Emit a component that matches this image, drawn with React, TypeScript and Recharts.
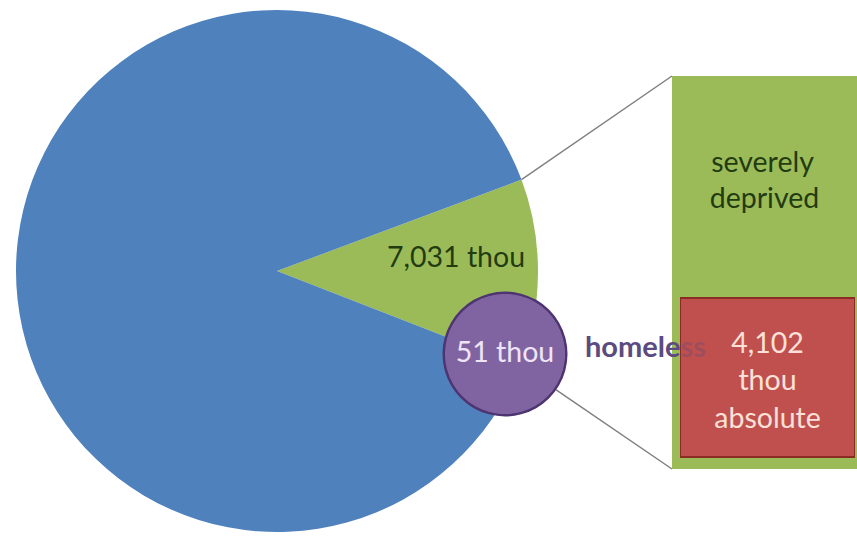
import React from "react";
import {
  PieChart,
  Pie,
  Cell,
  BarChart,
  Bar,
  XAxis,
  YAxis,
  LabelList,
  Customized,
} from "recharts";

// values (thousands of people)
const pieNames = ["severely deprived", "rest of population"];
const pieValues = [7031, 53569];
const homelessValues = [51];
const panelCategories = ["deprivation"];
const severeValues = [7031];
const absoluteValues = [4102];

const pieData = pieNames.map((name, i) => ({ name, value: pieValues[i] }));
const homelessData = homelessValues.map((value) => ({ name: "homeless", value }));
const panelData = panelCategories.map((name, i) => ({
  name,
  severe: severeValues[i],
  absolute: absoluteValues[i],
}));

const W = 857;
const H = 536;
const FONT = "Lato, 'Open Sans', sans-serif";

const PIE_CX = 277;
const PIE_CY = 271;
const PIE_R = 261;
const PIE_START = 20.5;

const HOME_CX = 505;
const HOME_CY = 354;
const HOME_R = 61;

const PANEL_LEFT = 672;
const PANEL_TOP = 76;
const PANEL_W = 185;
const PANEL_H = 393;

const pieColors = ["#9bbb59", "#4f81bd"];
const fmt = (v: number) => v.toLocaleString("en-US") + " thou";

const rad = Math.PI / 180;

const renderMainLabel = (props: any) => {
  const { cx, cy, midAngle, outerRadius, index, value } = props;
  if (index !== 0) return null;
  const r = outerRadius * 0.686;
  const x = cx + r * Math.cos(-midAngle * rad);
  const y = cy + r * Math.sin(-midAngle * rad) - 5;
  return (
    <text x={x} y={y} textAnchor="middle" fill="#233b10" fontSize={28.5} fontFamily={FONT}>
      {fmt(value)}
    </text>
  );
};

const renderHomelessLabel = (props: any) => {
  const { cx, cy, value } = props;
  return (
    <g>
      <text x={cx} y={cy + 8} textAnchor="middle" fill="#efe4f6" fontSize={28.5} fontFamily={FONT}>
        {fmt(value)}
      </text>
      <text x={cx + HOME_R + 19} y={cy + 3} fill="#5b4b80" fontSize={29} fontWeight={700} fontFamily={FONT}>
        homele<tspan fillOpacity={0.35}>ss</tspan>
      </text>
    </g>
  );
};

const Connectors = () => {
  const a1 = PIE_START * rad;
  const x1 = PIE_CX + PIE_R * Math.cos(a1);
  const y1 = PIE_CY - PIE_R * Math.sin(a1);
  const a2 = -35 * rad;
  const x2 = HOME_CX + (HOME_R + 1) * Math.cos(a2);
  const y2 = HOME_CY - (HOME_R + 1) * Math.sin(a2);
  return (
    <g stroke="#808080" strokeWidth={1.5}>
      <line x1={x1} y1={y1} x2={PANEL_LEFT} y2={PANEL_TOP} />
      <line x1={x2} y1={y2} x2={PANEL_LEFT} y2={PANEL_TOP + PANEL_H} />
    </g>
  );
};

const renderSevereLabel = (props: any) => {
  const { x, y, width } = props;
  const mx = x + width / 2;
  return (
    <g fill="#233b10" fontSize={28.5} fontFamily={FONT} textAnchor="middle">
      <text x={mx - 2} y={y + 96}>severely</text>
      <text x={mx} y={y + 132}>deprived</text>
    </g>
  );
};

const renderAbsoluteLabel = (props: any) => {
  const { x, y, width, value } = props;
  const mx = x + width / 2;
  return (
    <g fill="#fbe1da" fontSize={28.5} fontFamily={FONT} textAnchor="middle">
      <text x={mx} y={y + 55}>{Number(value).toLocaleString("en-US")}</text>
      <text x={mx} y={y + 92}>thou</text>
      <text x={mx} y={y + 130}>absolute</text>
    </g>
  );
};

export default function App() {
  return (
    <div style={{ position: "absolute", left: 0, top: 0, width: W, height: H, background: "#fff", overflow: "hidden" }}>
      {/* right-hand panel: severely deprived with absolute poverty inside */}
      <div style={{ position: "absolute", left: PANEL_LEFT, top: PANEL_TOP }}>
        <BarChart width={PANEL_W} height={PANEL_H} data={panelData} margin={{ top: 0, right: 0, bottom: 0, left: 0 }} barCategoryGap={0}>
          <XAxis dataKey="name" hide />
          <YAxis hide type="number" domain={[0, "dataMax"]} allowDataOverflow />
          <Bar dataKey="severe" fill="#9bbb59" isAnimationActive={false}>
            <LabelList dataKey="severe" content={renderSevereLabel} />
          </Bar>
        </BarChart>
      </div>
      <div style={{ position: "absolute", left: 680, top: PANEL_TOP }}>
        <BarChart width={175} height={PANEL_H} data={panelData} margin={{ top: 0, right: 0, bottom: 0, left: 0 }} barCategoryGap={0}>
          <XAxis dataKey="name" hide />
          <YAxis hide type="number" domain={[-310, 9829]} allowDataOverflow />
          <Bar dataKey="absolute" fill="#c0504d" stroke="#8a2c24" strokeWidth={2} isAnimationActive={false}>
            <LabelList dataKey="absolute" content={renderAbsoluteLabel} />
          </Bar>
        </BarChart>
      </div>
      {/* pie plus the homeless bubble */}
      <div style={{ position: "absolute", left: 0, top: 0 }}>
        <PieChart width={W} height={H} margin={{ top: 0, right: 0, bottom: 0, left: 0 }}>
          <Pie
            data={pieData}
            dataKey="value"
            cx={PIE_CX}
            cy={PIE_CY}
            outerRadius={PIE_R}
            startAngle={PIE_START}
            endAngle={PIE_START - 360}
            stroke="none"
            label={renderMainLabel}
            labelLine={false}
            isAnimationActive={false}
          >
            {pieData.map((d, i) => (
              <Cell key={d.name} fill={pieColors[i]} />
            ))}
          </Pie>
          <Customized component={Connectors} />
          <Pie
            data={homelessData}
            dataKey="value"
            cx={HOME_CX}
            cy={HOME_CY}
            innerRadius={HOME_R - 1.5}
            outerRadius={HOME_R + 1.5}
            fill="#4e3471"
            stroke="none"
            isAnimationActive={false}
          />
          <Pie
            data={homelessData}
            dataKey="value"
            cx={HOME_CX}
            cy={HOME_CY}
            outerRadius={HOME_R - 1}
            fill="#8064a2"
            stroke="none"
            label={renderHomelessLabel}
            labelLine={false}
            isAnimationActive={false}
          />
        </PieChart>
      </div>
    </div>
  );
}
